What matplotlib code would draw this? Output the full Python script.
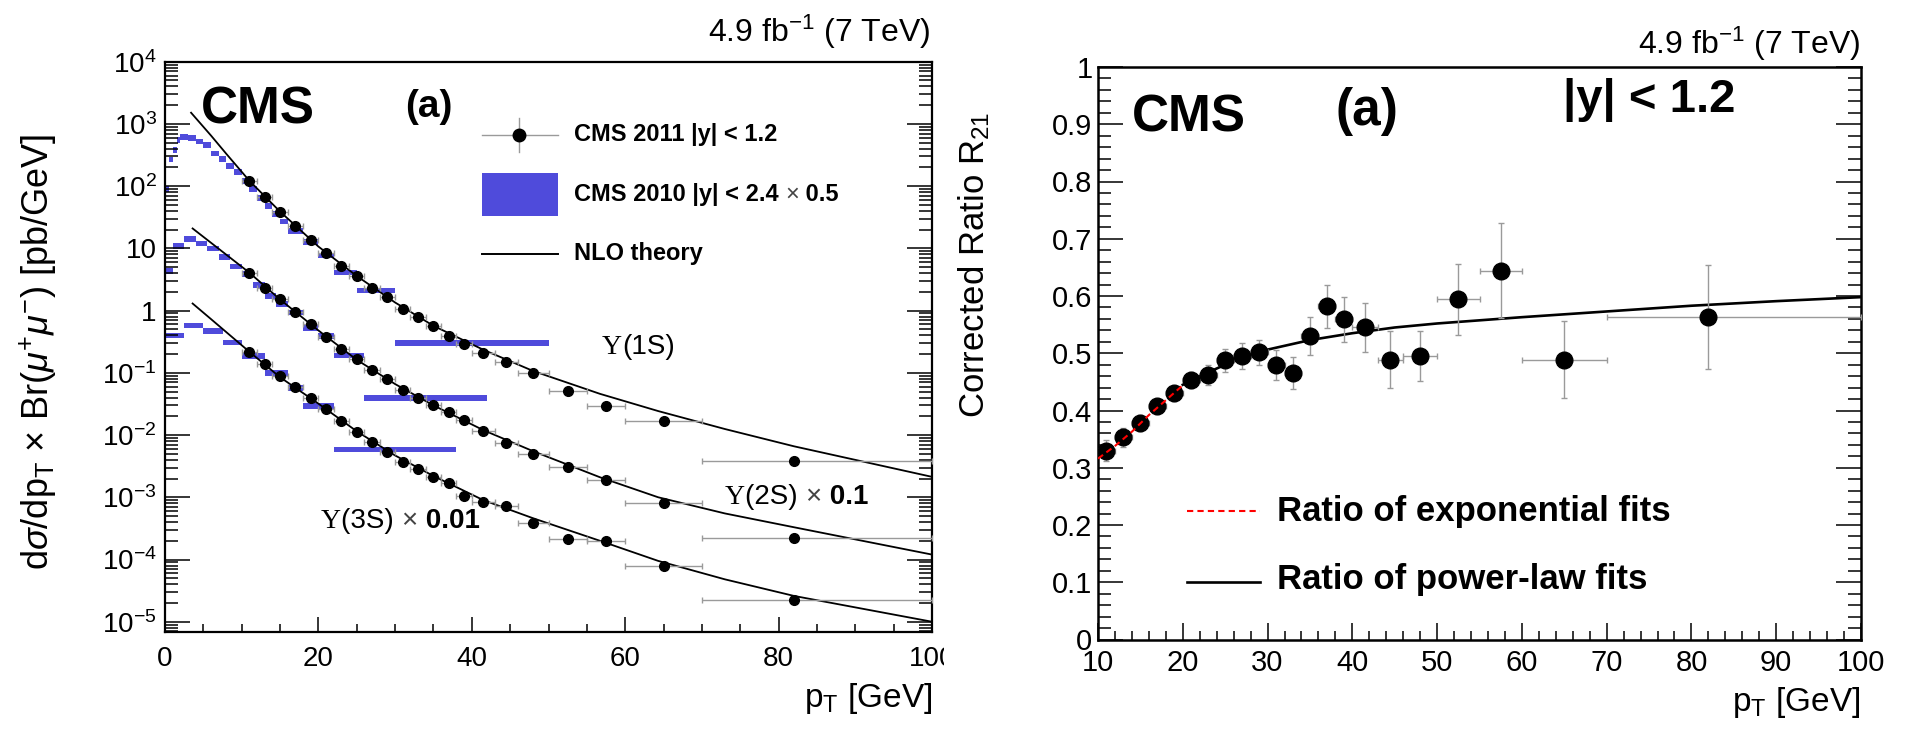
import numpy as np
import matplotlib
matplotlib.use('Agg')
import matplotlib.pyplot as plt
from matplotlib.lines import Line2D
from matplotlib.patches import Rectangle
from matplotlib.ticker import LogLocator, MultipleLocator, FuncFormatter, NullFormatter
from matplotlib.transforms import Bbox

plt.rcParams['font.family'] = ['Liberation Sans', 'DejaVu Sans']
plt.rcParams['mathtext.fontset'] = 'custom'
plt.rcParams['mathtext.rm'] = 'Liberation Sans'
plt.rcParams['mathtext.it'] = 'Liberation Sans:italic'
plt.rcParams['mathtext.bf'] = 'Liberation Sans:bold'

W, H = 1909, 729

# ---- CMS 2011, |y| < 1.2 : pT bins
pt_mid = [11, 13, 15, 17, 19, 21, 23, 25, 27, 29, 31, 33, 35, 37, 39, 41.5, 44.5, 48, 52.5, 57.5, 65, 82]
pt_lo = [10, 12, 14, 16, 18, 20, 22, 24, 26, 28, 30, 32, 34, 36, 38, 40, 43, 46, 50, 55, 60, 70]
pt_hi = [12, 14, 16, 18, 20, 22, 24, 26, 28, 30, 32, 34, 36, 38, 40, 43, 46, 50, 55, 60, 70, 100]

# cross sections (pb/GeV), 2S scaled x0.1, 3S scaled x0.01
xs_1s = [122, 67.6, 38.7, 23.1, 13.6, 8.5, 5.19, 3.59, 2.28, 1.63, 1.08, 0.78, 0.57, 0.39, 0.29,
         0.21, 0.147, 0.10, 0.051, 0.029, 0.017, 0.0038]
xs_2s = [4.05, 2.3, 1.51, 0.96, 0.61, 0.38, 0.238, 0.164, 0.110, 0.081, 0.0527, 0.040, 0.0303,
         0.0231, 0.0173, 0.01156, 0.00732, 0.00493, 0.00308, 0.00188, 0.00082, 0.000222]
xs_3s = [0.218, 0.138, 0.088, 0.060, 0.039, 0.026, 0.017, 0.0113, 0.00778, 0.0053, 0.00371,
         0.00283, 0.00208, 0.00171, 0.00104, 0.00084, 0.00072, 0.00038, 0.00021, 0.00020,
         7.9e-5, 2.2e-5]

# ---- CMS 2010, |y| < 2.4 (x0.5)
b1_lo = [0, 0.5, 1, 1.5, 2, 3, 4, 5, 6, 7, 8, 9, 10, 11, 12, 13, 14, 15, 16, 18, 20, 22, 25, 30]
b1_hi = [0.5, 1, 1.5, 2, 3, 4, 5, 6, 7, 8, 9, 10, 11, 12, 13, 14, 15, 16, 18, 20, 22, 25, 30, 50]
b1_val = [90, 270, 380, 550, 610, 600, 525, 455, 336, 275, 210, 170, 120, 90, 64, 48, 36, 27,
          19.2, 12.8, 7.7, 4.1, 2.1, 0.30]
b2_lo = [0, 1, 2.5, 4, 5.5, 7, 8.5, 10, 11.5, 13, 14.5, 16, 18, 20, 22, 26]
b2_hi = [1, 2.5, 4, 5.5, 7, 8.5, 10, 11.5, 13, 14.5, 16, 18, 20, 22, 26, 42]
b2_val = [4.3, 10.9, 14.1, 12.0, 9.9, 7.3, 5.1, 3.9, 2.6, 1.71, 1.27, 0.93, 0.52, 0.39, 0.19, 0.039]
b3_lo = [0, 2.5, 5, 7.5, 10, 13, 16, 18, 22]
b3_hi = [2.5, 5, 7.5, 10, 13, 16, 18, 22, 38]
b3_val = [0.40, 0.58, 0.47, 0.305, 0.186, 0.10, 0.057, 0.029, 0.0059]

# ---- NLO theory curves
nlo_pt_1s = [3.4, 6, 8, 11, 15, 20, 25, 30, 35, 41.5, 48, 56.7, 64.3, 73, 82, 100]
nlo_1s = [1514, 650, 330, 122, 39, 10.7, 3.6, 1.35, 0.57, 0.235, 0.107, 0.046, 0.0243, 0.0125,
          0.0066, 0.00213]
nlo_pt_23 = [3.6, 6, 8, 11, 15, 20, 25, 30, 35, 41.5, 48, 56.7, 64.3, 73, 82, 100]
nlo_2s = [20.9, 12.3, 7.9, 4.07, 1.51, 0.48, 0.162, 0.066, 0.030, 0.012, 0.0055, 0.0021, 0.00100,
          0.00055, 0.00033, 0.00012]
nlo_3s = [1.30, 0.73, 0.45, 0.218, 0.085, 0.032, 0.0115, 0.0047, 0.0022, 0.0009, 0.00046, 0.0002,
          9.5e-5, 4.8e-5, 2.6e-5, 1.0e-5]

# ---- corrected ratio R21
r21 = [0.330, 0.353, 0.378, 0.407, 0.430, 0.454, 0.462, 0.488, 0.495, 0.502, 0.479, 0.466, 0.530,
       0.582, 0.559, 0.545, 0.489, 0.495, 0.594, 0.644, 0.489, 0.564]
r21_err = [0.018, 0.016, 0.014, 0.013, 0.013, 0.014, 0.017, 0.020, 0.023, 0.022, 0.026, 0.028, 0.033,
           0.038, 0.040, 0.042, 0.049, 0.044, 0.062, 0.083, 0.067, 0.091]
exp_pt = [10, 12, 14, 16, 18, 20]
exp_fit = [0.316, 0.338, 0.363, 0.392, 0.418, 0.444]
pow_pt = [20, 22, 25, 29, 35, 40, 45, 50, 60, 70, 80, 90, 100]
pow_fit = [0.445, 0.460, 0.480, 0.503, 0.523, 0.535, 0.545, 0.552, 0.563, 0.573, 0.583, 0.591, 0.598]

blue = '#4f4bdb'
gray = '#9a9a9a'


def fx(x):
    return x / W


def fy(y):
    return 1 - y / H


def chain(ax, x, y, parts, size):
    # consecutive text pieces, first one at pixel position (x, y-baseline)
    s, kw = parts[0]
    t = ax.text(fx(x), fy(y), s, transform=ax.figure.transFigure, fontsize=size,
                ha='left', va='baseline', **kw)
    for s, kw in parts[1:]:
        t = ax.annotate(s, xy=(1, 0), xycoords=t, ha='left', va='bottom', fontsize=size,
                        annotation_clip=False, **kw)
    return t


def log_label(v, pos):
    e = int(round(np.log10(v)))
    if e == 0:
        return '1'
    if e == 1:
        return '10'
    return r'10$^{%d}$' % e


fig = plt.figure(figsize=(W / 100, H / 100), dpi=100)

# ================= left panel =================
ax1 = fig.add_axes([fx(165), fy(632), 767 / W, 570.3 / H])
ax1.set_yscale('log')
ax1.set_xlim(0, 100)
ax1.set_ylim(10 ** -5.165, 1e4)

d = 10 ** 0.045
for lo, hi, val in [(b1_lo, b1_hi, b1_val), (b2_lo, b2_hi, b2_val), (b3_lo, b3_hi, b3_val)]:
    lo = np.array(lo)
    hi = np.array(hi)
    val = np.array(val)
    ax1.bar(lo, val * d - val / d, width=hi - lo, bottom=val / d, align='edge',
            color=blue, edgecolor='none', linewidth=0, zorder=1)

for p, v in [(nlo_pt_1s, nlo_1s), (nlo_pt_23, nlo_2s), (nlo_pt_23, nlo_3s)]:
    ax1.plot(p, v, color='black', lw=1.3, zorder=2)

xe_lo = np.array(pt_mid) - np.array(pt_lo)
xe_hi = np.array(pt_hi) - np.array(pt_mid)
for v in [xs_1s, xs_2s, xs_3s]:
    ax1.errorbar(pt_mid, v, xerr=[xe_lo, xe_hi], fmt='o', color='black', ms=7,
                 ecolor=gray, elinewidth=1, capsize=2, capthick=1, zorder=3)

ax1.xaxis.set_major_locator(MultipleLocator(20))
ax1.xaxis.set_minor_locator(MultipleLocator(5))
ax1.yaxis.set_major_locator(LogLocator(base=10, numticks=20))
ax1.yaxis.set_minor_locator(LogLocator(base=10, subs=np.arange(2, 10), numticks=20))
ax1.yaxis.set_major_formatter(FuncFormatter(log_label))
ax1.yaxis.set_minor_formatter(NullFormatter())
ax1.tick_params(which='both', direction='in', top=False, right=True, width=1.1, labelsize=20)
ax1.tick_params(axis='y', which='major', length=18, pad=6)
ax1.tick_params(axis='y', which='minor', length=9.4)
ax1.tick_params(axis='x', which='major', length=11, pad=10)
ax1.tick_params(axis='x', which='minor', length=6)
for sp in ax1.spines.values():
    sp.set_linewidth(1.6)

# clip the last x label like in the original
fig.canvas.draw()
for lab in ax1.get_xticklabels():
    lab.set_clip_on(True)
    lab.set_clip_box(Bbox.from_extents(0, 0, 944, H))

ax1.text(fx(201), fy(123), 'CMS', transform=fig.transFigure, fontsize=37, fontweight='bold',
         ha='left', va='baseline')
ax1.text(fx(405), fy(107), '(a)', transform=fig.transFigure, fontsize=28, fontweight='bold',
         ha='left', va='center')

# legend
fig.add_artist(Line2D([fx(482), fx(558)], [fy(135), fy(135)], color=gray, lw=1))
fig.add_artist(Line2D([fx(519), fx(519)], [fy(118), fy(152)], color=gray, lw=1))
fig.add_artist(Line2D([fx(519)], [fy(135)], marker='o', color='black', ms=9))
fig.add_artist(Rectangle((fx(482), fy(216)), 76 / W, 43 / H, transform=fig.transFigure,
                         color=blue, lw=0))
fig.add_artist(Line2D([fx(482), fx(558)], [fy(254), fy(254)], color='black', lw=1.4))
ax1.text(fx(574), fy(141), 'CMS 2011 |y| < 1.2', transform=fig.transFigure, fontsize=17,
         fontweight='bold', ha='left', va='baseline')
chain(ax1, 574, 201, [('CMS 2010 |y| < 2.4 ', dict(fontweight='bold')),
                      ('\u00d7', dict(fontweight='normal', color='#444444')),
                      (' 0.5', dict(fontweight='bold'))], 17)
ax1.text(fx(574), fy(260), 'NLO theory', transform=fig.transFigure, fontsize=17,
         fontweight='bold', ha='left', va='baseline')

# state labels
ups = dict(family='Liberation Serif')
chain(ax1, 602, 354, [('\u03a5', ups), ('(1S)', {})], 20)
chain(ax1, 725, 504, [('\u03a5', ups), ('(2S) ', {}), ('\u00d7', dict(color='#444444')),
                      (' 0.1', dict(fontweight='bold'))], 20)
chain(ax1, 321, 528, [('\u03a5', ups), ('(3S) ', {}), ('\u00d7', dict(color='#444444')),
                      (' 0.01', dict(fontweight='bold'))], 20)

fig.text(fx(930), fy(42), r'4.9 fb$^{-1}$ (7 TeV)', fontsize=23, ha='right', va='baseline')
fig.text(fx(932), fy(698), r'p$_{\mathrm{T}}$ [GeV]', fontsize=24, ha='right', va='center')
fig.text(fx(38), fy(352),
         r'd$\sigma$/dp$_{\mathrm{T}}$ $\times$ Br($\mu^{+}\mu^{-}$) [pb/GeV]',
         fontsize=26, rotation=90, ha='center', va='center')

# ================= right panel =================
ax2 = fig.add_axes([fx(1098), fy(639.5), 763 / W, 572.5 / H])
ax2.set_xlim(10, 100)
ax2.set_ylim(0, 1)

ax2.plot(pow_pt, pow_fit, color='black', lw=1.9, zorder=2)
ax2.plot(exp_pt, exp_fit, color='red', lw=1.5, ls=(0, (3, 2)), zorder=4)
ax2.errorbar(pt_mid, r21, yerr=r21_err, xerr=[xe_lo, xe_hi], fmt='o', color='black', ms=12,
             ecolor=gray, elinewidth=1, capsize=2.5, capthick=1, zorder=3)

ax2.xaxis.set_major_locator(MultipleLocator(10))
ax2.xaxis.set_minor_locator(MultipleLocator(2))
ax2.yaxis.set_major_locator(MultipleLocator(0.1))
ax2.yaxis.set_minor_locator(MultipleLocator(0.02))
ax2.yaxis.set_major_formatter(FuncFormatter(lambda v, p: '%g' % round(v, 1)))
ax2.tick_params(which='both', direction='in', top=False, right=True, width=1.1, labelsize=21)
ax2.tick_params(axis='y', which='major', length=18, pad=4)
ax2.tick_params(axis='y', which='minor', length=9.4)
ax2.tick_params(axis='x', which='major', length=12, pad=7)
ax2.tick_params(axis='x', which='minor', length=6.5)
for sp in ax2.spines.values():
    sp.set_linewidth(1.8)

ax2.text(fx(1132), fy(131), 'CMS', transform=fig.transFigure, fontsize=37, fontweight='bold',
         ha='left', va='baseline')
ax2.text(fx(1336), fy(112), '(a)', transform=fig.transFigure, fontsize=37, fontweight='bold',
         ha='left', va='center')
ax2.text(fx(1563), fy(112), '|y| < 1.2', transform=fig.transFigure, fontsize=34,
         fontweight='bold', ha='left', va='baseline')

fig.add_artist(Line2D([fx(1187), fx(1260)], [fy(511), fy(511)], color='red', lw=1.5,
                      ls=(0, (3, 2))))
fig.add_artist(Line2D([fx(1187), fx(1260)], [fy(582), fy(582)], color='black', lw=1.9))
ax2.text(fx(1277), fy(511), 'Ratio of exponential fits', transform=fig.transFigure, fontsize=25,
         fontweight='bold', ha='left', va='center')
ax2.text(fx(1277), fy(580), 'Ratio of power-law fits', transform=fig.transFigure, fontsize=25,
         fontweight='bold', ha='left', va='center')

fig.text(fx(1860), fy(54), r'4.9 fb$^{-1}$ (7 TeV)', fontsize=23, ha='right', va='baseline')
fig.text(fx(1860), fy(703), r'p$_{\mathrm{T}}$ [GeV]', fontsize=24, ha='right', va='center')
fig.text(fx(974), fy(112), r'Corrected Ratio R$_{21}$', fontsize=25, rotation=90,
         ha='center', va='top')

fig.savefig('out.png', dpi=100)
